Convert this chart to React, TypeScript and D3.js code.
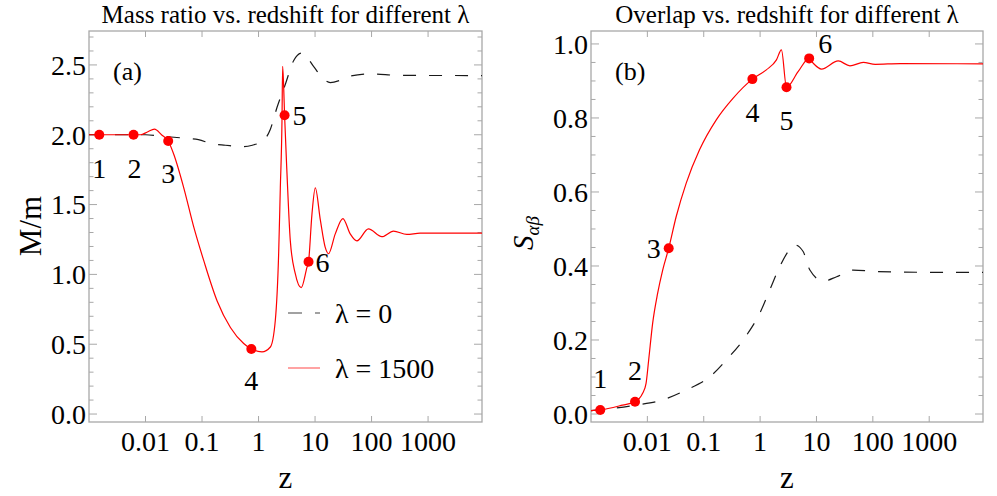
import * as d3 from "d3";

// ---- data ----
const xTickValues = [0.01, 0.1, 1, 10, 100, 1000];
const xTickLabels = ["0.01", "0.1", "1", "10", "100", "1000"];

const massTicks = [0, 0.5, 1, 1.5, 2, 2.5];
const massTickLabels = ["0.0", "0.5", "1.0", "1.5", "2.0", "2.5"];
const overlapTicks = [0, 0.2, 0.4, 0.6, 0.8, 1.0];
const overlapTickLabels = ["0.0", "0.2", "0.4", "0.6", "0.8", "1.0"];

// panel (a): M/m, lambda = 0
const zMass0 = [0.001, 0.01, 0.0184, 0.0509, 0.0864, 0.151, 0.259, 0.538, 0.776, 1.23, 1.62, 2.12, 2.97, 4.17, 5.86, 9.4, 13.2, 18.6, 27.9, 41.9, 94.4, 320, 9000];
const mass0 = [2.0, 2.0, 1.99, 1.975, 1.965, 1.935, 1.925, 1.915, 1.925, 1.96, 2.04, 2.195, 2.36, 2.53, 2.585, 2.49, 2.41, 2.374, 2.39, 2.42, 2.435, 2.425, 2.424];

// panel (a): M/m, lambda = 1500
const zMass1500 = [0.001, 0.00152, 0.00614, 0.00816, 0.0108, 0.0144, 0.0192, 0.0252, 0.0316, 0.0475, 0.0713, 0.107, 0.185, 0.318, 0.546, 0.746, 1.15, 1.62, 1.98, 2.27, 2.43, 2.6, 2.67, 2.78, 2.89, 3.19, 3.65, 4.47, 5.7, 7.19, 7.67, 8.81, 10.1, 12.4, 15.1, 17.3, 22.8, 31.1, 41.9, 55, 88, 152, 244, 421, 723, 9000];
const mass1500 = [2.0, 2.0, 2.0, 2.0, 2.02, 2.04, 2.0, 1.955, 1.86, 1.62, 1.34, 1.1, 0.81, 0.62, 0.505, 0.466, 0.445, 0.48, 0.67, 1.15, 1.62, 2.1, 2.49, 2.35, 2.14, 1.72, 1.24, 1.005, 0.905, 1.05, 1.09, 1.43, 1.62, 1.39, 1.195, 1.148, 1.29, 1.4, 1.29, 1.24, 1.326, 1.27, 1.31, 1.286, 1.295, 1.295];

// panel (b): overlap, lambda = 0
const zOverlap0 = [0.001, 0.0063, 0.0187, 0.0489, 0.127, 0.251, 0.57, 0.984, 1.48, 2.23, 3.14, 4.13, 5.8, 7.64, 13.2, 22.8, 45, 117, 1042, 9000];
const overlap0 = [0.009, 0.024, 0.038, 0.065, 0.1, 0.146, 0.212, 0.272, 0.335, 0.398, 0.439, 0.457, 0.439, 0.389, 0.359, 0.371, 0.389, 0.385, 0.383, 0.383];

// panel (b): overlap, lambda = 1500
const zOverlap1500 = [0.001, 0.00146, 0.00363, 0.00604, 0.00824, 0.00948, 0.01055, 0.0124, 0.0152, 0.0187, 0.0239, 0.0324, 0.0489, 0.0842, 0.167, 0.33, 0.73, 1.29, 1.95, 2.39, 2.94, 4.72, 7.42, 8.74, 12.3, 24.3, 39.3, 67.7, 110, 305, 9000];
const overlap1500 = [0.009, 0.011, 0.024, 0.033, 0.056, 0.083, 0.146, 0.245, 0.326, 0.389, 0.448, 0.533, 0.624, 0.714, 0.795, 0.853, 0.905, 0.93, 0.957, 0.984, 0.883, 0.925, 0.961, 0.948, 0.932, 0.954, 0.941, 0.95, 0.945, 0.947, 0.946];

// numbered points
const pointLabels = ["1", "2", "3", "4", "5", "6"];
const pointZMass = [0.00152, 0.00614, 0.0252, 0.746, 2.89, 7.67];
const pointMass = [2.0, 2.0, 1.955, 0.466, 2.14, 1.09];
const pointZOverlap = [0.00146, 0.00604, 0.0239, 0.73, 2.94, 7.42];
const pointOverlap = [0.011, 0.033, 0.448, 0.905, 0.883, 0.961];

const FONT = "'Liberation Serif', 'Times New Roman', serif";
const FRAME = "#a8a8a8";
const RED = "#ff0000";

type PanelProps = {
  id: string;
  x0: number;
  x1: number;
  title: string;
  tag: string;
  yDomain: [number, number];
  yTicks: number[];
  yTickLabels: string[];
  minorStep: number;
  series0: [number[], number[]];
  series1500: [number[], number[]];
  pts: [number[], number[]];
  labelOffsets: [number, number][];
  yLabel: React.ReactNode;
  legend?: boolean;
};

const Panel = (p: PanelProps) => {
  const y0 = 31;
  const y1 = 422;
  const x = d3.scaleLog().domain([0.001, 9000]).range([p.x0, p.x1]);
  const y = d3.scaleLinear().domain(p.yDomain).range([y1, y0]);
  const line = d3
    .line<number>()
    .x((d) => x(d))
    .curve(d3.curveMonotoneX);
  const path = (s: [number[], number[]]) =>
    line.y((_, i) => y(s[1][i]))(s[0]) ?? "";

  // minor ticks every step, majors drawn longer
  const minor = d3
    .range(Math.ceil(p.yDomain[0] / p.minorStep), Math.floor(p.yDomain[1] / p.minorStep) + 1)
    .map((k) => k * p.minorStep);
  const cx = (p.x0 + p.x1) / 2;

  return (
    <g>
      <defs>
        <clipPath id={p.id}>
          <rect x={p.x0} y={y0} width={p.x1 - p.x0} height={y1 - y0} />
        </clipPath>
      </defs>
      <text x={cx} y={23} textAnchor="middle" fontSize={25} fontFamily={FONT}>
        {p.title}
      </text>
      <rect x={p.x0} y={y0} width={p.x1 - p.x0} height={y1 - y0} fill="none" stroke={FRAME} strokeWidth={1.3} />
      {minor.map((v) => {
        const major = p.yTicks.some((t) => Math.abs(t - v) < 1e-6);
        const len = major ? 8 : 4.5;
        return (
          <g key={"yt" + v} stroke={FRAME} strokeWidth={1}>
            <line x1={p.x0} x2={p.x0 + len} y1={y(v)} y2={y(v)} />
            <line x1={p.x1} x2={p.x1 - len} y1={y(v)} y2={y(v)} />
          </g>
        );
      })}
      {p.yTicks.map((v, i) => (
        <text key={"yl" + v} x={p.x0 - 3} y={y(v)} dy="0.35em" textAnchor="end" fontSize={28} fontFamily={FONT}>
          {p.yTickLabels[i]}
        </text>
      ))}
      {xTickValues.map((v, i) => (
        <g key={"xt" + v}>
          <line x1={x(v)} x2={x(v)} y1={y1} y2={y1 - 6} stroke={FRAME} />
          <line x1={x(v)} x2={x(v)} y1={y0} y2={y0 + 6} stroke={FRAME} />
          <text x={x(v)} y={451} textAnchor="middle" fontSize={28} fontFamily={FONT}>
            {xTickLabels[i]}
          </text>
        </g>
      ))}
      <text x={cx} y={488} textAnchor="middle" fontSize={31} fontFamily={FONT}>
        z
      </text>
      {p.yLabel}
      <text x={p.x0 + 24} y={80} fontSize={26} fontFamily={FONT}>
        {p.tag}
      </text>
      <g clipPath={`url(#${p.id})`} fill="none">
        <path d={path(p.series0)} stroke="#1a1a1a" strokeWidth={1.2} strokeDasharray="13,13" />
        <path d={path(p.series1500)} stroke={RED} strokeWidth={1.2} />
      </g>
      {p.pts[0].map((z, i) => (
        <g key={"pt" + i}>
          <circle cx={x(z)} cy={y(p.pts[1][i])} r={5} fill={RED} />
          <text
            x={x(z) + p.labelOffsets[i][0]}
            y={y(p.pts[1][i]) + p.labelOffsets[i][1]}
            textAnchor="middle"
            fontSize={28}
            fontFamily={FONT}
          >
            {pointLabels[i]}
          </text>
        </g>
      ))}
      {p.legend && (
        <g fontFamily={FONT} fontSize={28}>
          <line x1={p.x0 + 199} x2={p.x0 + 231} y1={313} y2={313} stroke="#444" strokeWidth={1.2} strokeDasharray="14,13" />
          <text x={p.x0 + 246} y={323}>λ = 0</text>
          <line x1={p.x0 + 199} x2={p.x0 + 231} y1={368} y2={368} stroke="#ff8c8c" strokeWidth={1.6} />
          <text x={p.x0 + 246} y={378}>λ = 1500</text>
        </g>
      )}
    </g>
  );
};

const App = () => {
  return (
    <svg
      width={997}
      height={496}
      style={{ position: "absolute", left: 0, top: 0, background: "#fff" }}
    >
      <Panel
        id="clipA"
        x0={89}
        x1={482}
        title="Mass ratio vs. redshift for different λ"
        tag="(a)"
        yDomain={[-0.057, 2.743]}
        yTicks={massTicks}
        yTickLabels={massTickLabels}
        minorStep={0.1}
        series0={[zMass0, mass0]}
        series1500={[zMass1500, mass1500]}
        pts={[pointZMass, pointMass]}
        labelOffsets={[[0, 43], [1, 43], [0, 42], [0, 41], [15, 10], [14, 10]]}
        legend
        yLabel={
          <text transform="translate(41,226) rotate(-90)" textAnchor="middle" fontSize={31} fontFamily={FONT}>
            M/m
          </text>
        }
      />
      <Panel
        id="clipB"
        x0={591}
        x1={983}
        title="Overlap vs. redshift for different λ"
        tag="(b)"
        yDomain={[-0.0216, 1.035]}
        yTicks={overlapTicks}
        yTickLabels={overlapTickLabels}
        minorStep={0.05}
        series0={[zOverlap0, overlap0]}
        series1500={[zOverlap1500, overlap1500]}
        pts={[pointZOverlap, pointOverlap]}
        labelOffsets={[[0, -22], [0, -22], [-15, 10], [0, 43], [0, 43], [16, -5]]}
        yLabel={
          <text transform="translate(533,233) rotate(-90)" textAnchor="middle" fontSize={29} fontFamily={FONT}>
            <tspan fontStyle="italic">S</tspan>
            <tspan fontStyle="italic" fontSize={19} dy={6}>αβ</tspan>
          </text>
        }
      />
    </svg>
  );
};

export default App;
